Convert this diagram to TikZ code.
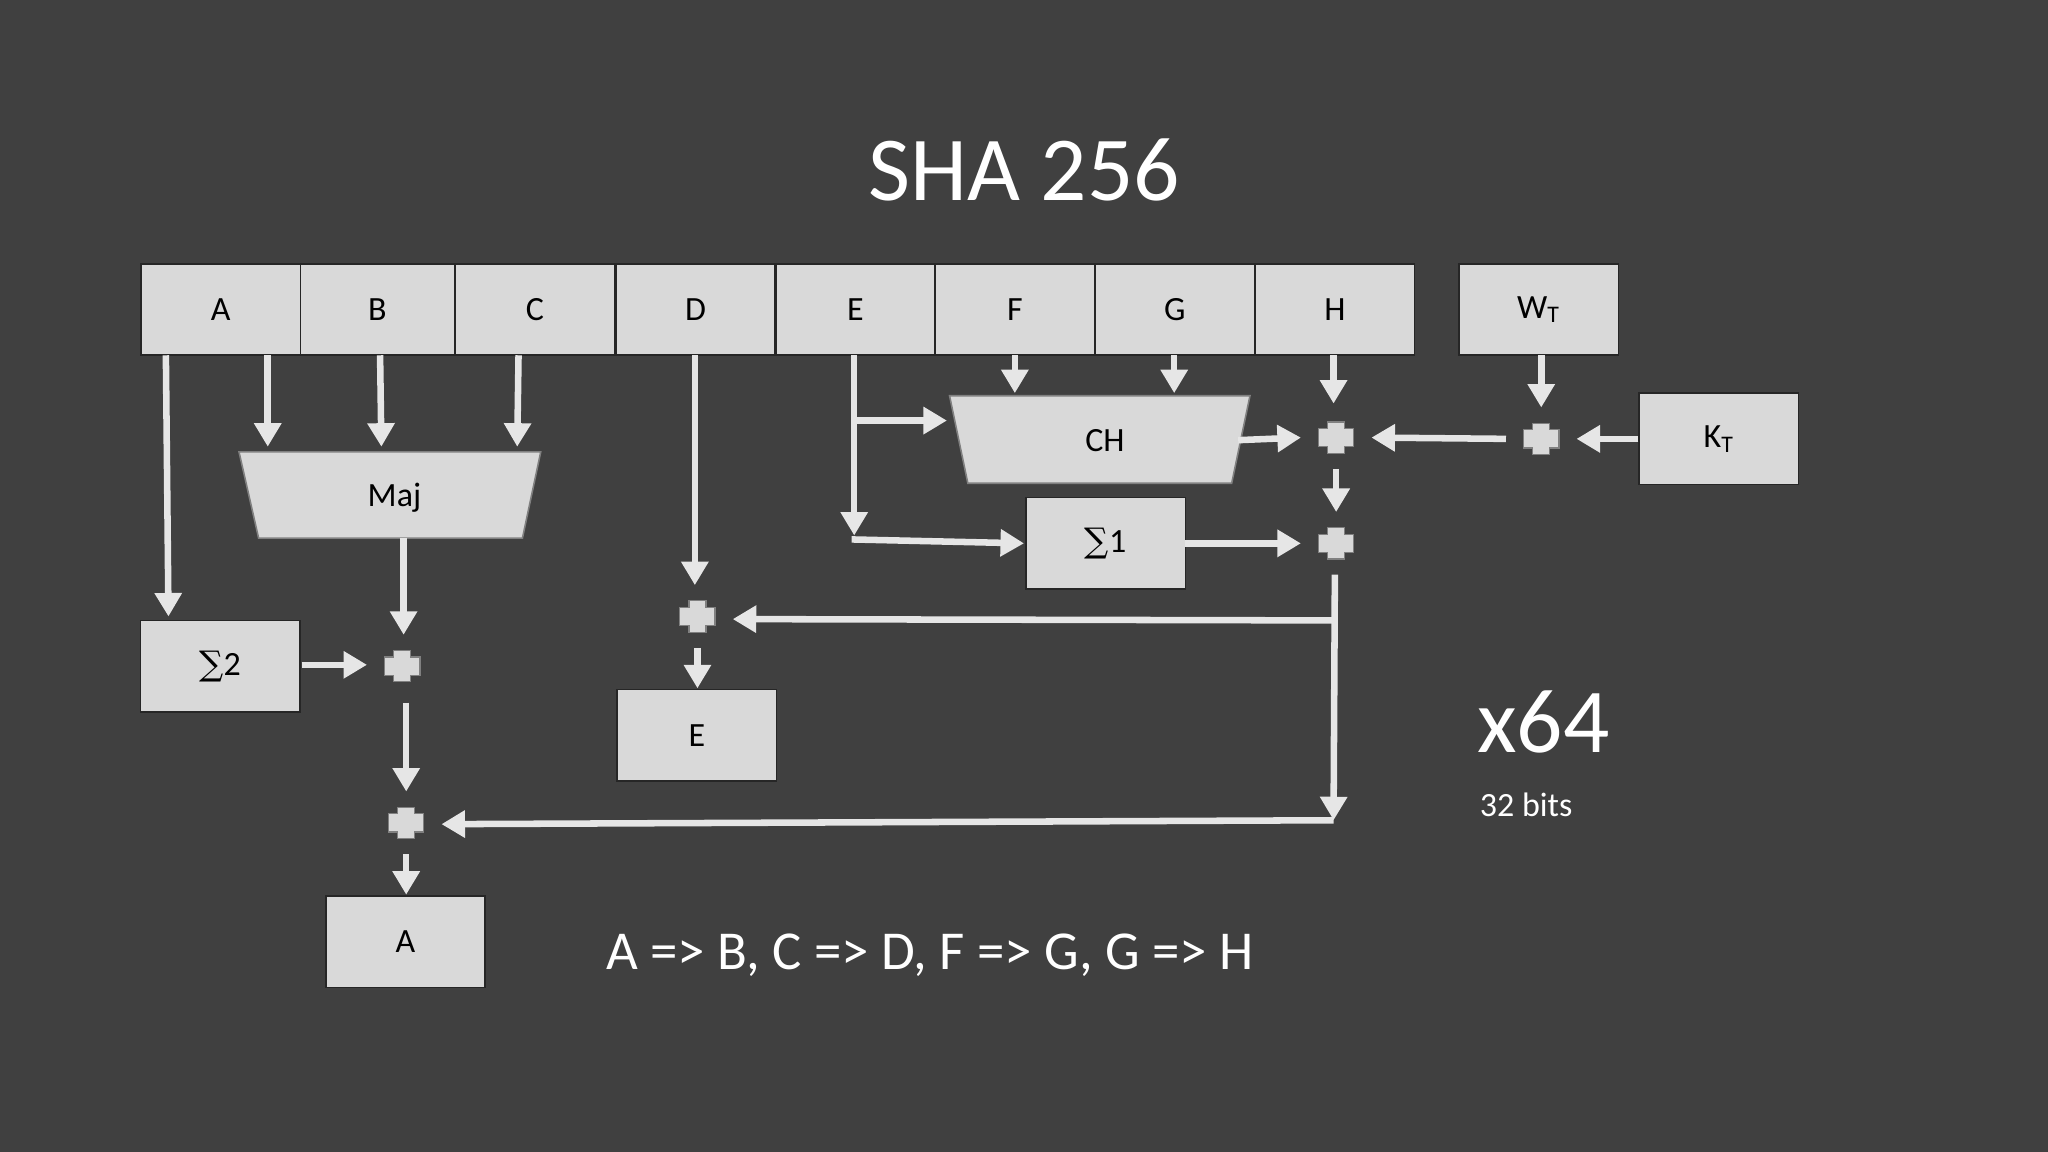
\documentclass[tikz,border=0pt]{standalone}
\usepackage{fontspec}
\setmainfont{Carlito}
\newfontfamily\symf{DejaVu Serif}
\usetikzlibrary{arrows.meta,calc}
\definecolor{bg}{HTML}{404040}
\definecolor{boxc}{HTML}{D9D9D9}
\definecolor{linec}{HTML}{E6E6E6}
\tikzset{
 reg/.style={draw=black!85,line width=0.6pt,fill=boxc,minimum width=61pt,minimum height=35pt,inner sep=0pt,font=\fontsize{13}{15}\selectfont,text=black},
 trap/.style={draw=gray,line width=0.6pt,fill=boxc},
 arr/.style={draw=linec,line width=2.5pt,-{Triangle[length=9pt,width=10pt]}},
 ln/.style={draw=linec,line width=2.5pt},
 adder/.style={minimum width=27pt,minimum height=24pt,inner sep=0pt},
}
\newcommand{\adderdraw}[1]{%
 \fill[boxc,draw=gray,line width=0.5pt] ($(#1.center)+(-6.5,-12)$) -- ($(#1.center)+(6.5,-12)$) -- ($(#1.center)+(6.5,-7)$) -- ($(#1.center)+(13.5,-7)$) -- ($(#1.center)+(13.5,7)$) -- ($(#1.center)+(6.5,7)$) -- ($(#1.center)+(6.5,12)$) -- ($(#1.center)+(-6.5,12)$) -- ($(#1.center)+(-6.5,7)$) -- ($(#1.center)+(-13.5,7)$) -- ($(#1.center)+(-13.5,-7)$) -- ($(#1.center)+(-6.5,-7)$) -- cycle;}
\begin{document}
\begin{tikzpicture}[x=0.5pt,y=-0.5pt]
\fill[bg] (0,0) rectangle (1568,882);
\useasboundingbox (0,0) rectangle (1568,882);
\node[text=white,font=\fontsize{35}{40}\selectfont] (title) at (784,130) {SHA 256};
% registers
\node[reg] (A) at (169,237) {A};
\node[reg,minimum width=59pt] (B) at (289,237) {B};
\node[reg] (C) at (409.5,237) {C};
\node[reg] (D) at (532.5,237) {D};
\node[reg] (E) at (655,237) {E};
\node[reg] (F) at (777,237) {F};
\node[reg] (G) at (899.5,237) {G};
\node[reg] (H) at (1022,237) {H};
\node[reg] (W) at (1178,237) {W\textsubscript{T}};
\node[reg] (K) at (1316,336) {K\textsubscript{T}};
\node[reg] (S1) at (846.5,416) {{\symf ∑}1};
\node[reg] (S2) at (168.5,510) {{\symf ∑}2};
\node[reg] (Eo) at (533.5,563) {E};
\node[reg] (Ao) at (310.5,721) {A};
% trapezoids
\draw[trap] (183,346) -- (414,346) -- (400,412) -- (198,412) -- cycle;
\node[font=\fontsize{13}{15}\selectfont] (maj) at (302,381) {Maj};
\draw[trap] (727,303) -- (957,303) -- (943,370) -- (741,370) -- cycle;
\node[font=\fontsize{13}{15}\selectfont] (ch) at (846,337) {CH};
% adders
\node[adder] (p1) at (1023,335) {};
\node[adder] (pw) at (1180,336) {};
\node[adder] (p2) at (1023,416) {};
\node[adder] (pd) at (534,472) {};
\node[adder] (pa1) at (308,510) {};
\node[adder] (pa2) at (311,630) {};
\adderdraw{p1}\adderdraw{pw}\adderdraw{p2}\adderdraw{pd}\adderdraw{pa1}\adderdraw{pa2}
% connectors
\draw[arr] (127,272) -- (129,472);
\draw[arr] (205,272) -- (205,342);
\draw[arr] (291,272) -- (292,342);
\draw[arr] (397,272) -- (396,342);
\draw[arr] (532,272) -- (532,448);
\coordinate (e1) at (656,322);
\coordinate (e2) at (654,410);
\draw[arr] (654,272) -- (e2);
\draw[arr] (e1) -- (725,322);
\draw[arr] (652,413) -- (784,416);
\draw[arr] (777,272) -- (777,301);
\draw[arr] (899,272) -- (899,301);
\draw[arr] (1021,272) -- (1021,309);
\draw[arr] (948,337) -- (996,335);
\draw[arr] (1023,359) -- (1023,392);
\draw[arr] (1180,272) -- (1180,312);
\draw[arr] (K.west) -- (1207,336);
\draw[arr] (1153,336) -- (1050,335);
\draw[arr] (907,416) -- (996,416);
\coordinate (br) at (1020,475);
\coordinate (cn) at (1021,628);
\draw[arr] (1022,440) -- (cn);
\draw[arr] (br) -- (561,474);
\draw[arr] (534,496) -- (534,527);
\draw[arr] (cn) -- (338,631);
\draw[arr] (309,412) -- (309,486);
\draw[arr] (231,509) -- (281,509);
\draw[arr] (311,538) -- (311,606);
\draw[arr] (311,654) -- (311,685);
% texts
\node[text=white,font=\fontsize{35}{40}\selectfont,anchor=west] (x64) at (1124,553) {x64};
\node[text=white,font=\fontsize{13}{15}\selectfont,anchor=west] (bits) at (1126,616) {32 bits};
\node[text=white,font=\fontsize{21}{25}\selectfont] (rule) at (712,731) {A => B, C => D, F => G, G => H};
\end{tikzpicture}
\end{document}
